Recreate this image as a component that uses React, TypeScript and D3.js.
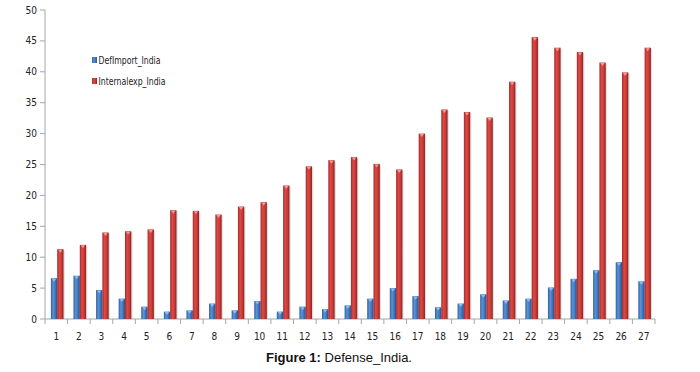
import React from "react";
import * as d3 from "d3";

const categories = Array.from({ length: 27 }, (_, i) => String(i + 1));
const defImport = [6.6, 7.0, 4.7, 3.3, 2.0, 1.2, 1.4, 2.5, 1.4, 2.9, 1.2, 2.0, 1.6, 2.2, 3.3, 5.0, 3.7, 1.9, 2.5, 4.0, 3.0, 3.3, 5.1, 6.5, 7.9, 9.2, 6.1];
const internalExp = [11.3, 12.0, 14.0, 14.2, 14.5, 17.6, 17.5, 16.9, 18.2, 18.9, 21.6, 24.7, 25.7, 26.2, 25.1, 24.2, 30.0, 33.9, 33.5, 32.6, 38.4, 45.6, 43.9, 43.2, 41.5, 39.9, 43.9];
const yTicks = [0, 5, 10, 15, 20, 25, 30, 35, 40, 45, 50];
const seriesNames = ["DefImport_India", "Internalexp_India"];

const W = 700, H = 372;
const left = 45, right = 655, top = 10, bottom = 319;

export default function App() {
  const x = d3.scaleBand<string>().domain(categories).range([left, right]).paddingInner(0).paddingOuter(0);
  const y = d3.scaleLinear().domain([0, 50]).range([bottom, top]);
  const bw = x.bandwidth();
  const barW = 6.3;
  const font = "'DejaVu Sans Condensed', sans-serif";
  const series = [
    { name: seriesNames[0], values: defImport, grad: "gBlue", cap: "#8fbcef", off: -barW + 0.9, tl: 62 },
    { name: seriesNames[1], values: internalExp, grad: "gRed", cap: "#f29a94", off: 0.9, tl: 67 },
  ];
  return (
    <svg width={W} height={H} style={{ position: "absolute", left: 0, top: 0, background: "#fff" }}>
      <defs>
        <linearGradient id="gBlue" x1="0" x2="1" y1="0" y2="0">
          <stop offset="0" stopColor="#2f5f9e" />
          <stop offset="0.35" stopColor="#5a92d6" />
          <stop offset="0.7" stopColor="#3f74b8" />
          <stop offset="1" stopColor="#24508a" />
        </linearGradient>
        <linearGradient id="gRed" x1="0" x2="1" y1="0" y2="0">
          <stop offset="0" stopColor="#a8282a" />
          <stop offset="0.35" stopColor="#dc4a45" />
          <stop offset="0.7" stopColor="#c63a36" />
          <stop offset="1" stopColor="#8e1f20" />
        </linearGradient>
      </defs>
      {/* y axis */}
      <line x1={left} x2={left} y1={top} y2={bottom} stroke="#a6a6a6" />
      {yTicks.map((t) => (
        <g key={t}>
          <line x1={left - 5} x2={left} y1={y(t)} y2={y(t)} stroke="#a6a6a6" />
          <text x={left - 8} y={y(t)} dy="0.35em" textAnchor="end" fontSize={10} fontFamily={font} fill="#222">{t}</text>
        </g>
      ))}
      {/* x axis */}
      <line x1={left} x2={right} y1={bottom} y2={bottom} stroke="#a6a6a6" />
      {categories.concat([""]).map((c, i) => {
        const xx = left + i * bw;
        return <line key={"t" + i} x1={xx} x2={xx} y1={bottom} y2={bottom + 5} stroke="#a6a6a6" />;
      })}
      {categories.map((c) => (
        <text key={"l" + c} x={(x(c) as number) + bw / 2} y={336} dy="0.35em" textAnchor="middle" fontSize={10} fontFamily={font} fill="#222">{c}</text>
      ))}
      {/* bars */}
      {series.map((s) =>
        s.values.map((v, i) => {
          const cx = (x(categories[i]) as number) + bw / 2;
          const bx = cx + s.off;
          const by = y(v);
          const h = bottom - by;
          return (
            <g key={s.name + i}>
              <rect x={bx + 1.2} y={by + 1} width={barW} height={h - 1} fill="#bbbbbb" opacity={0.5} />
              <rect x={bx} y={by} width={barW} height={h} fill={`url(#${s.grad})`} />
              <path d={`M${bx + 1},${by + 0.5} L${bx + barW - 1},${by + 0.5} L${bx + barW / 2},${by + 3.5} Z`} fill={s.cap} />
            </g>
          );
        })
      )}
      {/* legend */}
      {series.map((s, i) => (
        <g key={"lg" + i} transform={`translate(92, ${60 + i * 21})`}>
          <rect x={0} y={-3} width={5} height={6} fill={`url(#${s.grad})`} />
          <text x={6.5} y={0} dy="0.35em" fontSize={10.5} fontFamily={font} fill="#222" textLength={s.tl} lengthAdjust="spacingAndGlyphs">{s.name}</text>
        </g>
      ))}
      <text x={339} y={357} dy="0.35em" textAnchor="middle" fontSize={13} fontFamily="'Liberation Sans', Arial, sans-serif" fill="#111">
        <tspan fontWeight="bold">Figure 1:</tspan> Defense_India.
      </text>
    </svg>
  );
}
